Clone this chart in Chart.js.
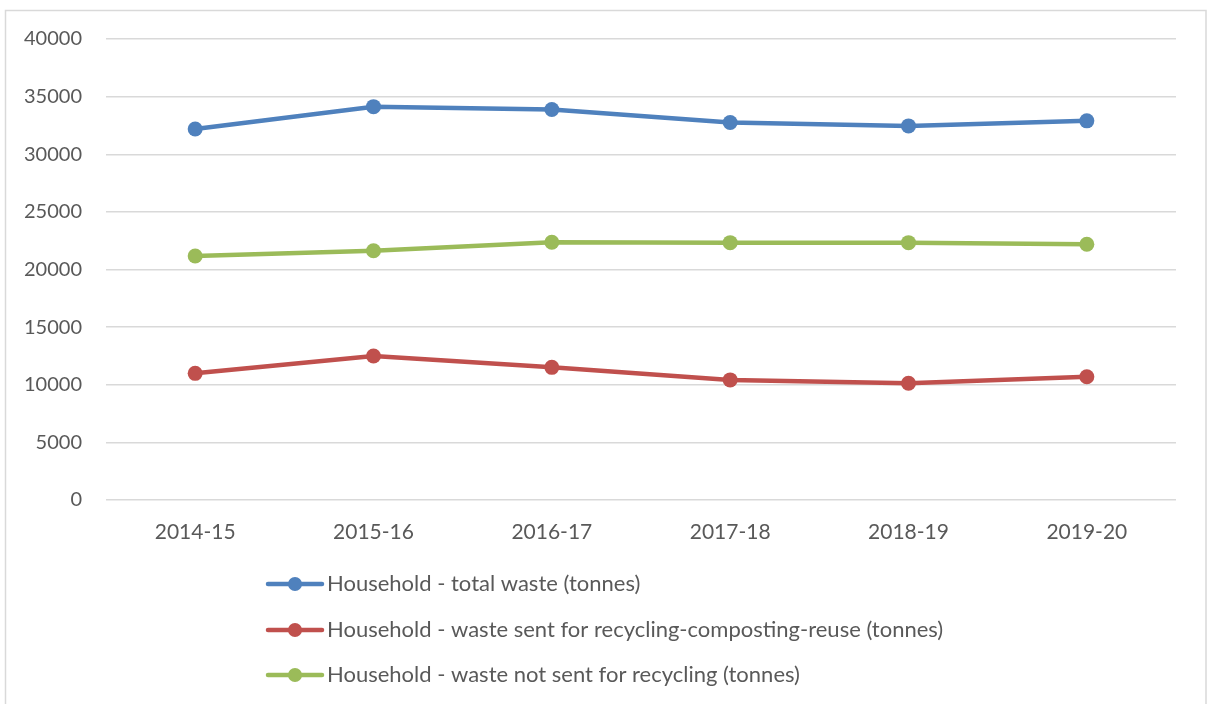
<!DOCTYPE html>
<html>
<head>
<meta charset="utf-8">
<title>Household waste</title>
<script src="https://cdn.jsdelivr.net/npm/chart.js@4"></script>
<style>
  html, body { margin: 0; padding: 0; background: #ffffff; }
  #wrap { position: relative; width: 1207px; height: 704px; }
</style>
</head>
<body>
<div id="wrap"><canvas id="chart" width="1207" height="704"></canvas></div>
<script>
// Financial years on the category axis
const years = ['2014-15', '2015-16', '2016-17', '2017-18', '2018-19', '2019-20'];

// Tonnes per year
const totalWaste = [32190, 34130, 33880, 32760, 32460, 32900];
const recycledWaste = [10990, 12490, 11510, 10420, 10130, 10700];
const notRecycledWaste = [21170, 21630, 22360, 22330, 22330, 22190];

const seriesNames = [
  'Household - total waste (tonnes)',
  'Household - waste sent for recycling-composting-reuse (tonnes)',
  'Household - waste not sent for recycling (tonnes)'
];

const FONT = 'Lato, "Open Sans", sans-serif';
const TEXT = '#595959';

// Outer frame around the whole chart
const framePlugin = {
  id: 'frame',
  beforeDraw(chart) {
    const ctx = chart.ctx;
    ctx.save();
    ctx.fillStyle = '#ffffff';
    ctx.fillRect(0, 0, chart.width, chart.height);
    ctx.strokeStyle = '#d9d9d9';
    ctx.lineWidth = 1.5;
    ctx.strokeRect(5.5, 10.5, chart.width - 6.5, chart.height);
    ctx.restore();
  }
};

// Stacked legend under the plot, one series per row
const stackedLegend = {
  id: 'stackedLegend',
  afterDraw(chart) {
    const ctx = chart.ctx;
    const x0 = 268, x1 = 322, textX = 327;
    const rows = [584, 630, 675];
    ctx.save();
    chart.data.datasets.forEach((ds, i) => {
      const y = rows[i];
      ctx.strokeStyle = ds.borderColor;
      ctx.lineWidth = 4.5;
      ctx.lineCap = 'round';
      ctx.beginPath();
      ctx.moveTo(x0, y);
      ctx.lineTo(x1, y);
      ctx.stroke();
      ctx.fillStyle = ds.backgroundColor;
      ctx.beginPath();
      ctx.arc((x0 + x1) / 2, y, 7, 0, Math.PI * 2);
      ctx.fill();
      ctx.fillStyle = TEXT;
      ctx.font = '22px ' + FONT;
      ctx.textAlign = 'left';
      ctx.textBaseline = 'middle';
      ctx.fillText(ds.label, textX, y);
    });
    ctx.restore();
  }
};

function series(label, data, color) {
  return {
    label: label,
    data: data,
    borderColor: color,
    backgroundColor: color,
    borderWidth: 4.5,
    pointRadius: 7.5,
    pointHoverRadius: 7.5,
    pointBorderWidth: 0,
    tension: 0
  };
}

new Chart(document.getElementById('chart'), {
  type: 'line',
  data: {
    labels: years,
    datasets: [
      series(seriesNames[0], totalWaste, '#4f81bd'),
      series(seriesNames[1], recycledWaste, '#c0504d'),
      series(seriesNames[2], notRecycledWaste, '#9bbb59')
    ]
  },
  options: {
    responsive: false,
    animation: false,
    layout: { padding: { left: 0, right: 31, top: 39, bottom: 154 } },
    plugins: {
      legend: { display: false },
      tooltip: { enabled: false }
    },
    scales: {
      x: {
        offset: true,
        grid: { display: false, drawTicks: false },
        border: { display: false },
        ticks: { color: TEXT, font: { family: FONT, size: 21 }, padding: 20 },
        afterFit(scale) { scale.height = 50; }
      },
      y: {
        min: 0,
        max: 40000,
        ticks: {
          stepSize: 5000,
          color: TEXT,
          font: { family: FONT, size: 20 },
          padding: 24,
          callback: (v) => String(v)
        },
        grid: { color: '#d9d9d9', lineWidth: 1.5, drawTicks: false },
        border: { display: false },
        afterFit(scale) { scale.width = 106; }
      }
    }
  },
  plugins: [framePlugin, stackedLegend]
});
</script>
</body>
</html>
